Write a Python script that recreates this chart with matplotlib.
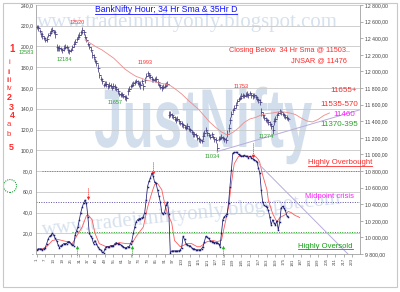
import matplotlib
matplotlib.use('Agg')
import matplotlib.pyplot as plt
import matplotlib.lines as mlines
import matplotlib.transforms as mtransforms
from matplotlib.textpath import TextPath
from matplotlib.patches import PathPatch, Circle, Rectangle
from matplotlib.font_manager import FontProperties
from matplotlib.ticker import FuncFormatter

plt.rcParams['font.family'] = ['Liberation Sans', 'DejaVu Sans']

# hourly closes of BankNifty (right axis)
closes = [12535, 12520, 12490, 12450, 12430, 12400, 12380, 12390, 12440, 12460,
          12490, 12500, 12475, 12450, 12290, 12280, 12285, 12270, 12255, 12280,
          12300, 12290, 12260, 12240, 12260, 12290, 12330, 12360, 12390, 12420,
          12440, 12470, 12495, 12470, 12420, 12380, 12330, 12300, 12260, 12200,
          12170, 12130, 12100, 12040, 11960, 11910, 11880, 11840, 11850, 11845,
          11820, 11840, 11830, 11800, 11830, 11815, 11790, 11760, 11730, 11720,
          11725, 11705, 11690, 11680, 11760, 11790, 11820, 11840, 11855, 11870,
          11880, 11865, 11850, 11835, 11880, 11820, 11900, 11945, 11975, 11955,
          11935, 11910, 11895, 11905, 11910, 11870, 11840, 11815, 11800, 11815,
          11830, 11845, 11850, 11480, 11490, 11470, 11455, 11430, 11415, 11430,
          11400, 11380, 11365, 11350, 11335, 11320, 11340, 11310, 11290, 11270,
          11250, 11240, 11230, 11200, 11185, 11170, 11160, 11220, 11260, 11300,
          11255, 11230, 11215, 11240, 11210, 11185, 11170, 11080, 11190, 11200,
          11210, 11195, 11180, 11175, 11250, 11320, 11410, 11490, 11530, 11560,
          11600, 11640, 11665, 11680, 11700, 11710, 11700, 11720, 11730, 11715,
          11735, 11710, 11700, 11715, 11690, 11670, 11650, 11630, 11510, 11470,
          11440, 11420, 11410, 11390, 11370, 11340, 11300, 11400, 11430, 11470,
          11500, 11520, 11510, 11490, 11470, 11450, 11440, 11430]
# high-low range of each bar
spreads = [60, 70, 50, 60, 80, 50, 60, 70, 50, 60,
           70, 60, 50, 90, 80, 60, 70, 50, 60, 80,
           60, 50, 70, 60, 50, 60, 70, 60, 50, 60,
           70, 60, 80, 60, 70, 60, 50, 70, 60, 80,
           70, 60, 80, 90, 70, 60, 70, 50, 60, 70,
           60, 70, 60, 50, 60, 70, 60, 70, 50, 60,
           60, 50, 60, 70, 90, 60, 50, 60, 70, 60,
           50, 60, 70, 100, 60, 90, 70, 60, 50, 60,
           60, 70, 50, 60, 70, 60, 50, 60, 70, 60,
           50, 60, 60, 90, 70, 60, 50, 60, 70, 60,
           60, 50, 70, 60, 50, 60, 70, 60, 50, 60,
           70, 60, 50, 60, 70, 60, 50, 90, 80, 70,
           60, 50, 70, 60, 50, 60, 70, 110, 60, 50,
           60, 50, 60, 70, 90, 90, 80, 70, 60, 60,
           70, 60, 50, 60, 70, 60, 50, 60, 70, 60,
           50, 60, 70, 60, 50, 60, 70, 80, 90, 70,
           60, 50, 60, 70, 60, 70, 100, 80, 70, 60,
           50, 60, 60, 50, 60, 50, 60, 50]

# 34 hr sma (displaced), every 4th bar
sma_cats = list(range(35, 208, 4))
sma_vals = [12379, 12337, 12294, 12258, 12210, 12162, 12096, 12029, 11981, 11939,
            11915, 11891, 11879, 11861, 11849, 11830, 11782, 11728, 11662, 11601,
            11541, 11463, 11385, 11324, 11270, 11234, 11264, 11318, 11385, 11427,
            11445, 11475, 11493, 11499, 11511, 11511, 11499, 11481, 11439, 11403,
            11391, 11421, 11469, 11499]

# oscillator (left axis)
osc = [4, 5, 5, 5, 4, 5, 6, 10, 14, 17,
       18, 20, 18, 15, 13, 9, 6, 8, 9, 10,
       10, 10, 12, 12, 10, 9, 8, 18, 22, 26,
       33, 40, 45, 49, 52, 49, 36, 20, 17, 15,
       10, 13, 10, 7, 5, 4, 2, 1, 5, 7,
       7, 7, 8, 8, 8, 10, 11, 10, 10, 9,
       8, 7, 6, 6, 7, 7, 10, 13, 20, 26,
       31, 33, 34, 34, 35, 36, 40, 52, 65, 70,
       73, 78, 75, 69, 68, 62, 56, 50, 40, 39,
       40, 47, 50, 39, 1, 3, 3, 3, 3, 3,
       3, 4, 6, 17, 14, 10, 9, 8, 8, 6,
       5, 5, 4, 4, 4, 4, 5, 7, 12, 17,
       16, 15, 13, 12, 12, 11, 11, 11, 10, 7,
       20, 33, 36, 37, 39, 49, 65, 81, 97, 98,
       98, 98, 96, 95, 94, 94, 95, 94, 94, 93,
       94, 93, 92, 91, 90, 89, 83, 78, 62, 50,
       47, 46, 45, 42, 36, 28, 33, 30, 28, 32,
       23, 31, 44, 46, 44, 42, 37, 36]
sig_cats = [2, 5, 8, 12, 16, 19, 22, 26, 29, 33, 36, 37, 40, 42, 45, 50, 55, 59, 64, 68,
            71, 76, 79, 82, 84, 86, 89, 91, 93, 96, 98, 102, 107, 110, 114, 116, 121, 125, 128, 131,
            133, 136, 138, 140, 143, 146, 151, 155, 157, 158, 160, 163, 164, 167, 170, 172, 176, 178, 180, 183,
            185, 186]
sig_vals = [4, 5, 7, 13, 14, 13, 12, 10, 17, 26, 37, 38, 33, 20, 10, 7, 8, 11, 10, 10,
            17, 26, 45, 59, 67, 68, 62, 49, 39, 30, 13, 7, 10, 10, 7, 7, 12, 13, 12, 13,
            26, 45, 68, 87, 94, 95, 94, 94, 91, 88, 76, 62, 52, 39, 31, 35, 38, 41, 40, 37,
            36, 35]

# trend lines
trend_price_cats = [128, 228]
trend_price_vals = [11034, 11535]
trend_osc_cats = [157, 220]
trend_osc_vals = [87, 0]

# signal arrows
red_arrow_cats = [37, 83, 153]
red_arrow_top = [64, 89, 107]
red_arrow_bot = [54, 78, 94]
green_arrow_cats = [29, 68, 132]
green_arrow_top = [7, 7, 7]
green_arrow_bot = [-3, -3, -3]

levels = [80, 50, 21]
level_start = [5, 0.5, 26]
level_colors = ['#ff4040', '#5a4fa8', '#22a022']

n_cats = 228
x_ticks = list(range(1, 224, 6))

W, H = 400, 292


def px(x, y):
    return x / W, 1 - y / H


fig = plt.figure(figsize=(4, 2.92), dpi=100)
ax = fig.add_axes([36 / W, 1 - 254 / H, 324 / W, 249 / H])
ax.patch.set_visible(False)
ax2 = ax.twinx()

# watermarks
fig.text(37 / W, 1 - 27 / H, 'www.tradeinniftyonly.blogspot.com', family='Liberation Serif',
         fontsize=15, color='#d6e1ee', ha='left', va='baseline', zorder=-2)
fig.text(*px(192, 214), 'www.tradeinniftyonly.blogspot.com', family='Liberation Serif',
         fontsize=15, color='#d6e1ee', ha='center', va='center', rotation=6, zorder=-2)
fp = FontProperties(family='Liberation Sans', weight='bold')
tp = TextPath((0, 0), 'JustNifty', size=1, prop=fp)
ext = tp.get_extents()
sx = 217 / ext.width
sy = 60 / 0.72
tr = mtransforms.Affine2D().scale(sx, sy).translate(95 - ext.x0 * sx, H - 147)
fig.add_artist(PathPatch(tp, transform=tr, fc='#d2deec', ec='none', zorder=-2))

cats = list(range(1, len(closes) + 1))

# oscillator panel
ax.set_xlim(0.5, n_cats + 0.5)
ax.set_ylim(0, 240)
ax.set_yticks(range(0, 241, 20))
ax.yaxis.grid(True, color='#c8c8c8', lw=0.6)
ax.set_axisbelow(True)
for lv, st, col in zip(levels, level_start, level_colors):
    ax.plot([st, n_cats + 0.5], [lv, lv], ls=(0, (1, 1.5)), color=col, lw=0.7)
ax.plot(sig_cats, sig_vals, color='#ff5a5a', lw=0.6)
ax.plot(list(range(1, len(osc) + 1)), osc, color='#1c1c72', lw=0.55,
        marker='s', ms=1.1, mew=0)
ax.plot(trend_osc_cats, trend_osc_vals, color='#b8acdc', lw=0.7)
for c, t, b in zip(red_arrow_cats, red_arrow_top, red_arrow_bot):
    ax.plot([c, c], [t, b], ls=(0, (1, 1)), color='#ff3030', lw=0.7)
    ax.plot([c], [b], marker='v', color='#ff2020', ms=2.5, mew=0)
for c, t, b in zip(green_arrow_cats, green_arrow_top, green_arrow_bot):
    ax.plot([c, c], [t, b], ls=(0, (1, 1)), color='#20b020', lw=0.7, clip_on=False)
    ax.plot([c], [t], marker='^', color='#20b020', ms=2.5, mew=0, clip_on=False)

ax.set_xticks(x_ticks)
ax.set_xticklabels([str(v) for v in x_ticks])
ax.tick_params(axis='x', labelsize=3.2, length=2, width=0.5, color='#909090',
               pad=1, labelrotation=90, labelcolor='#505050')
ax.tick_params(axis='y', labelsize=3.7, length=0, pad=2, labelcolor='#404040')
ax.yaxis.set_major_formatter(FuncFormatter(
    lambda v, p: '-' if v == 0 else f'{v:.1f}'.replace('.', ',')))

# price panel
ax2.set_ylim(9800, 12800)
ax2.set_yticks(range(9800, 12801, 200))
ax2.yaxis.set_major_formatter(FuncFormatter(
    lambda v, p: f'{v:,.2f}'.replace(',', ' ').replace('.', ',')))
ax2.tick_params(axis='y', labelsize=3.7, length=2, width=0.5, color='#909090',
                pad=1.5, labelcolor='#404040')
lows = [c - s / 2 for c, s in zip(closes, spreads)]
highs = [c + s / 2 for c, s in zip(closes, spreads)]
bar_col = '#463f80'
ax2.vlines(cats, lows, highs, colors=bar_col, lw=0.55)
ax2.plot(cats, closes, ls='none', marker=mlines.TICKRIGHT, ms=1.3, mew=0.5, color=bar_col)
ax2.plot(cats[1:], closes[:-1], ls='none', marker=mlines.TICKLEFT, ms=1.3, mew=0.5, color=bar_col)
ax2.plot(sma_cats, sma_vals, color='#f08a8a', lw=0.6)
ax2.plot(trend_price_cats, trend_price_vals, color='#b8acdc', lw=0.7)

for a in (ax, ax2):
    for s in a.spines.values():
        s.set_color('#a0a0a0')
        s.set_linewidth(0.6)
    a.spines['top'].set_visible(False)
ax.spines['right'].set_visible(False)
ax2.spines['left'].set_visible(False)
ax2.spines['bottom'].set_visible(False)

# text annotations
red, green, mag = '#ff2a2a', '#2aa02a', '#ff20ff'
title = fig.text(*px(95, 10), 'BankNifty Hour; 34 Hr Sma & 35Hr D', fontsize=6.2,
                 color='#1010ff', ha='left', va='center')
fig.text(*px(350, 50), 'Closing Below  34 Hr Sma @ 11503..', fontsize=5.3, color=red,
         ha='right', va='center')
fig.text(*px(347, 61), 'JNSAR @ 11476', fontsize=5.3, color=red, ha='right', va='center')
fig.text(*px(357, 90), '11655+', fontsize=5.8, color=red, ha='right', va='center')
fig.text(*px(358, 104), '11535-570', fontsize=5.8, color=red, ha='right', va='center')
fig.text(*px(355, 115), '11460', fontsize=5.8, color=mag, ha='right', va='center')
fig.text(*px(358, 125), '11370-395', fontsize=5.8, color=green, ha='right', va='center')
ob = fig.text(*px(308, 163), 'Highly Overbought', fontsize=5.6, color=red, ha='left', va='center')
fig.text(*px(305, 196), 'Midpoint crisis', fontsize=5.5, color=mag, ha='left', va='center')
os_ = fig.text(*px(298, 246), 'Highly Oversold', fontsize=5.5, color='#10a010', ha='left', va='center')

for s, x, y, col in [('12520', 77, 23, red), ('12184', 64, 60, green), ('11993', 145, 63, red),
                     ('11657', 115, 103, green), ('11753', 241, 86, red), ('11274', 266, 137, green),
                     ('11034', 212, 156, green)]:
    fig.text(*px(x, y), s, fontsize=4, color=col, ha='center', va='center')

for s, x, y, fs, bold in [('1', 12, 49, 7, True), ('i', 9, 62, 5.5, False), ('ii', 9, 72, 5.5, False),
                          ('iii', 9, 80, 5.5, False), ('iv', 9, 88, 5.5, False), ('2', 9, 97, 6.5, True),
                          ('3', 11, 107, 6.5, True), ('4', 12, 116, 6.3, True), ('a', 9, 124.5, 5.6, False),
                          ('b', 9, 134, 5.6, False), ('5', 11, 148, 6.5, True)]:
    fig.text(*px(x, y), s, fontsize=fs, color=red, ha='center', va='center',
             weight='bold' if bold else 'normal')
fig.text(*px(26, 53), '12583', fontsize=4, color=green, ha='center', va='center')

fig.add_artist(Circle((10, H - 186), 6.5, transform=mtransforms.IdentityTransform(),
                      fill=False, ec='#20a040', lw=0.8, ls=(0, (1, 1))))
fig.add_artist(Rectangle((3, H - 287), 394, 284, transform=mtransforms.IdentityTransform(),
                         fill=False, ec='#c8c8c8', lw=0.8))

# underlines
fig.canvas.draw()
rend = fig.canvas.get_renderer()
for t in (title, ob, os_):
    bb = t.get_window_extent(rend)
    fig.add_artist(mlines.Line2D([bb.x0, bb.x1], [bb.y0 + 0.5, bb.y0 + 0.5],
                                 transform=mtransforms.IdentityTransform(),
                                 color=t.get_color(), lw=0.6))

fig.savefig('out.png', dpi=100)
